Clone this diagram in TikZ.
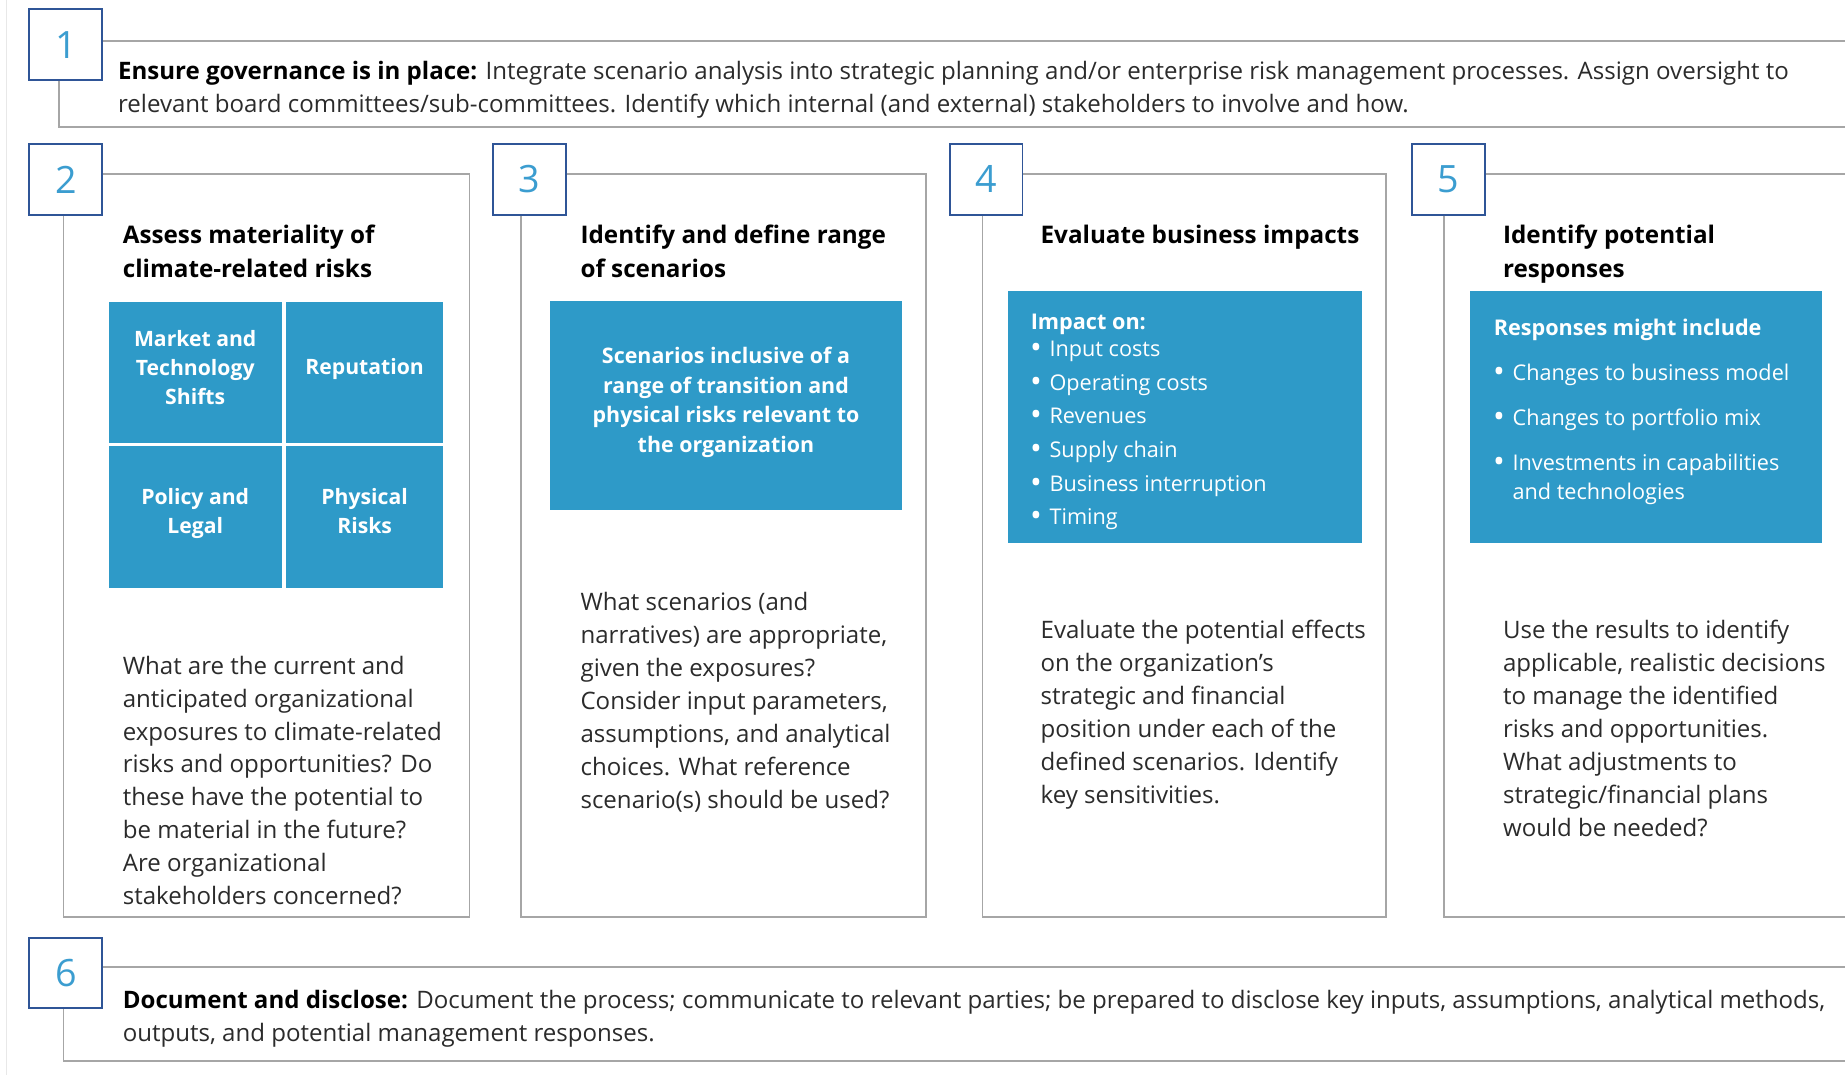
\documentclass[tikz,border=0pt]{standalone}
\usepackage{fontspec}
\setmainfont{Open Sans}
\usetikzlibrary{positioning}
\definecolor{tcfdblue}{HTML}{2E9AC8}
\definecolor{numblue}{HTML}{3B9DD0}
\definecolor{boxedge}{HTML}{2F5597}
\definecolor{framegray}{HTML}{A6A6A6}
\definecolor{bodytext}{HTML}{2B2B2B}
\definecolor{pagegray}{HTML}{E8E8E8}
\newcommand{\itembul}{\makebox[8.25pt][l]{\raisebox{-0.9pt}{\scalebox{1.45}{\textbullet}}}}

\begin{document}
\begin{tikzpicture}
        [
            x=0.5pt, y=-0.5pt,
            num/.style={draw=boxedge, line width=0.8pt, fill=white,
                        minimum width=31pt, minimum height=30pt, inner sep=0pt,
                        text=numblue, font=\fontsize{16}{16}\selectfont},
            frame/.style={draw=framegray, line width=0.8pt},
            txt/.style={anchor=north west, inner sep=0pt, align=left,
                        text=bodytext, font=\fontsize{10.22}{14}\selectfont},
            head/.style={txt, text=black, font=\bfseries\fontsize{10.3}{14.5}\selectfont},
            cell/.style={fill=tcfdblue, inner sep=0pt, anchor=north west},
            celltxt/.style={inner sep=0pt, align=center, text=white,
                            font=\bfseries\fontsize{9}{12.3}\selectfont},
            boxtxt/.style={inner sep=0pt, align=left, text=white,
                           font=\fontsize{9.2}{14.3}\selectfont}
        ]
        \useasboundingbox (0,0) rectangle (1568,914);
        \draw [pagegray] (5.5,0) -- (5.5,914);
        \foreach \i/\x/\y in {1/56/38, 2/56/152.5, 3/450/152.5, 4/838/152.5, 5/1231/152.5, 6/56/827}
            \node (n\i) [num] at (\x,\y) {};
        \draw [frame] (n1.east |- 0,35) -- (1568,35);
        \draw [frame] (n1.south -| 50,0) -- (50,108) -- (1568,108);
        \foreach \i/\l/\r in {2/54/399, 3/443/787, 4/835/1178}
            \draw [frame] (n\i.east |- 0,148) -- (\r,148) -- (\r,779) -- (\l,779) -- (n\i.south -| \l,0);
        \draw [frame] (n5.east |- 0,148) -- (1568,148);
        \draw [frame] (n5.south -| 1227,0) -- (1227,779) -- (1568,779);
        \draw [frame] (n6.east |- 0,822) -- (1568,822);
        \draw [frame] (n6.south -| 54,0) -- (54,902) -- (1568,902);
        \foreach \i in {1,...,6}
            \node [num, draw=none, fill=none] at (n\i) {\i};

        \node (gov) [txt] at (100,52) {\textbf{\color{black}Ensure governance is in place:} Integrate scenario analysis into strategic planning and/or enterprise risk management processes. Assign oversight to\\relevant board committees/sub-committees. Identify which internal (and external) stakeholders to involve and how.};

        \node (h2) [head] at (104,191) {Assess materiality of\\climate-related risks};
        \node (mkt) [cell, minimum width=73.5pt, minimum height=60pt] at (92,256.5) {};
        \node (rep) [cell, minimum width=66.5pt, minimum height=60pt] at (243,256.5) {};
        \node (pol) [cell, minimum width=73.5pt, minimum height=60pt] at (92,379) {};
        \node (phy) [cell, minimum width=66.5pt, minimum height=60pt] at (243,379) {};
        \node [celltxt, below=11.8pt of mkt.north] {Market and\\Technology\\Shifts};
        \node [celltxt, below=23.8pt of rep.north] {Reputation};
        \node [celltxt, below=18pt of pol.north] {Policy and\\Legal};
        \node [celltxt, below=18pt of phy.north] {Physical\\Risks};
        \node (q2) [txt] at (104,557) {What are the current and\\anticipated organizational\\exposures to climate-related\\risks and opportunities? Do\\these have the potential to\\be material in the future?\\Are organizational\\stakeholders concerned?};

        \node (h3) [head] at (493,191) {Identify and define range\\of scenarios};
        \node (scn) [cell, minimum width=149.2pt, minimum height=89.1pt] at (467.4,255.2) {};
        \node [celltxt, font=\bfseries\fontsize{9.1}{12.5}\selectfont, below=19.9pt of scn.north] {Scenarios inclusive of a\\range of transition and\\physical risks relevant to\\the organization};
        \node (q3) [txt] at (493,503) {What scenarios (and\\narratives) are appropriate,\\given the exposures?\\Consider input parameters,\\assumptions, and analytical\\choices. What reference\\scenario(s) should be used?};

        \node (h4) [head] at (884,191) {Evaluate business impacts};
        \node (imp) [cell, minimum width=150.5pt, minimum height=107.1pt] at (856.2,246.7) {};
        \node [boxtxt, below right=9.7pt and 9.7pt of imp.north west] {\textbf{Impact on:}\\[-2.6pt]
            \hspace*{-0.25pt}\itembul Input costs\\
            \hspace*{-0.25pt}\itembul Operating costs\\
            \hspace*{-0.25pt}\itembul Revenues\\
            \hspace*{-0.25pt}\itembul Supply chain\\
            \hspace*{-0.25pt}\itembul Business interruption\\
            \hspace*{-0.25pt}\itembul Timing};
        \node (q4) [txt] at (884,527) {Evaluate the potential effects\\on the organization’s\\strategic and financial\\position under each of the\\defined scenarios. Identify\\key sensitivities.};

        \node (h5) [head] at (1277,191) {Identify potential\\responses};
        \node (rsp) [cell, minimum width=149.5pt, minimum height=107.1pt] at (1248.7,246.7) {};
        \node [boxtxt, font=\fontsize{9.2}{12.5}\selectfont, below right=12.2pt and 10.2pt of rsp.north west] {\textbf{Responses might include}\\[6.5pt]
            \hspace*{-0.25pt}\itembul Changes to business model\\[6.5pt]
            \hspace*{-0.25pt}\itembul Changes to portfolio mix\\[6.5pt]
            \hspace*{-0.25pt}\itembul Investments in capabilities\\
            \hspace*{8pt}and technologies};
        \node (q5) [txt] at (1277,527) {Use the results to identify\\applicable, realistic decisions\\to manage the identified\\risks and opportunities.\\What adjustments to\\strategic/financial plans\\would be needed?};

        \node (doc) [txt] at (104,841) {\textbf{\color{black}Document and disclose:} Document the process; communicate to relevant parties; be prepared to disclose key inputs, assumptions, analytical methods,\\outputs, and potential management responses.};
    \end{tikzpicture}
\end{document}
